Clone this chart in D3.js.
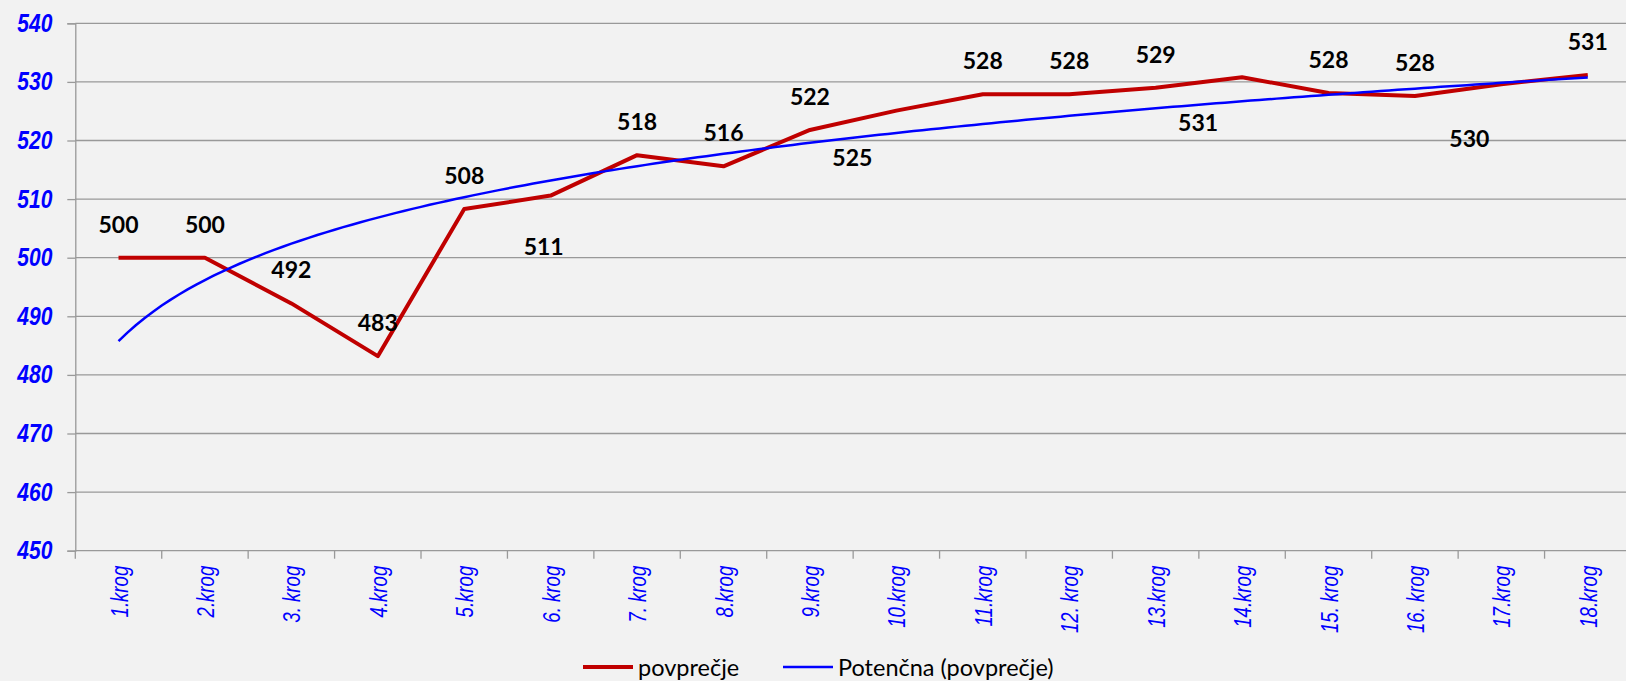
<!DOCTYPE html>
<html lang="sl">
<head>
<meta charset="UTF-8">
<title>povprečje</title>
<script src="https://d3js.org/d3.v7.min.js"></script>
<style>
    body { margin: 0; background: #f2f2f2; }
    svg { display: block; }
</style>
</head>
<body>
<script>
    // data
    const kategorije = ["1.krog", "2.krog", "3. krog", "4.krog", "5.krog", "6. krog", "7. krog", "8.krog", "9.krog",
        "10.krog", "11.krog", "12. krog", "13.krog", "14.krog", "15. krog", "16. krog", "17.krog", "18.krog"];
    const povprecje = [500, 500, 492.2, 483.2, 508.3, 510.6, 517.5, 515.6, 521.8,
        525.1, 527.9, 527.9, 529.0, 530.8, 528.1, 527.6, 529.6, 531.2];
    const yTicks = [450, 460, 470, 480, 490, 500, 510, 520, 530, 540];
    const labelBelow = ["6. krog", "10.krog", "14.krog", "17.krog"];

    const W = 1626, H = 681;
    const plotL = 75.3, plotR = 1631, plotT = 23.3, plotB = 550.7;
    const sans = "'Liberation Sans', Arial, sans-serif";

    // squeeze text horizontally, the original uses a narrow face
    function squeeze(sel, k) {
        sel.each(function () {
            const w = this.getComputedTextLength();
            d3.select(this).attr("textLength", w * k).attr("lengthAdjust", "spacingAndGlyphs");
        });
    }

    const svg = d3.select("body").append("svg")
        .attr("width", W)
        .attr("height", H);

    svg.append("rect").attr("width", W).attr("height", H).attr("fill", "#f2f2f2");

    const x = d3.scaleBand().domain(kategorije).range([plotL, plotR]).padding(0);
    const xLin = d3.scaleLinear().domain([0.5, kategorije.length + 0.5]).range([plotL, plotR]);
    const y = d3.scaleLinear().domain([450, 540]).range([plotB, plotT]);

    // y axis with grid
    const yAxis = svg.append("g")
        .attr("transform", `translate(${plotL},0)`)
        .call(d3.axisLeft(y).tickValues(yTicks).tickSize(8).tickPadding(15));
    yAxis.select(".domain").attr("stroke", "#999").attr("stroke-width", 1.3);
    yAxis.selectAll(".tick line").attr("stroke", "#999").attr("stroke-width", 1.3);
    yAxis.selectAll(".tick text")
        .attr("fill", "#0000ff")
        .attr("font-family", sans)
        .attr("font-weight", "bold")
        .attr("font-style", "italic")
        .attr("font-size", 25)
        .call(squeeze, 0.84);

    svg.append("g").selectAll("line")
        .data(yTicks)
        .join("line")
        .attr("x1", plotL).attr("x2", plotR)
        .attr("y1", d => y(d)).attr("y2", d => y(d))
        .attr("stroke", "#999").attr("stroke-width", 1.3);

    // x axis, ticks between categories
    const bounds = kategorije.map(k => x(k)).concat([plotR]);
    svg.append("g").selectAll("line")
        .data(bounds)
        .join("line")
        .attr("x1", d => d).attr("x2", d => d)
        .attr("y1", plotB).attr("y2", plotB + 8)
        .attr("stroke", "#999").attr("stroke-width", 1.3);

    svg.append("g").selectAll("text")
        .data(kategorije)
        .join("text")
        .attr("transform", d => `translate(${x(d) + x.bandwidth() / 2 + 9},${plotB + 15}) rotate(-90)`)
        .attr("text-anchor", "end")
        .attr("fill", "#0000ff")
        .attr("font-family", sans)
        .attr("font-style", "italic")
        .attr("font-size", 23)
        .text(d => d)
        .call(squeeze, 0.81);

    // power trendline (least squares on ln x, ln y)
    const lx = povprecje.map((v, i) => Math.log(i + 1));
    const ly = povprecje.map(v => Math.log(v));
    const mx = d3.mean(lx), my = d3.mean(ly);
    const b = d3.sum(lx, (v, i) => (v - mx) * (ly[i] - my)) / d3.sum(lx, v => (v - mx) * (v - mx));
    const a = Math.exp(my - b * mx);
    const trendX = d3.range(1, kategorije.length + 0.001, 0.1);

    // main series
    svg.append("path")
        .datum(povprecje)
        .attr("fill", "none")
        .attr("stroke", "#c00000")
        .attr("stroke-width", 4)
        .attr("stroke-linejoin", "round")
        .attr("d", d3.line().x((d, i) => x(kategorije[i]) + x.bandwidth() / 2).y(d => y(d)));

    svg.append("path")
        .datum(trendX)
        .attr("fill", "none")
        .attr("stroke", "#0000ff")
        .attr("stroke-width", 2.5)
        .attr("d", d3.line().x(d => xLin(d)).y(d => y(a * Math.pow(d, b))));

    // value labels
    const nudgeX = { "6. krog": -7, "10.krog": -44, "14.krog": -44, "17.krog": -32 };
    const nudgeY = { "6. krog": 50, "10.krog": 46, "14.krog": 45, "17.krog": 54 };
    svg.append("g").selectAll("text")
        .data(povprecje)
        .join("text")
        .attr("x", (d, i) => x(kategorije[i]) + x.bandwidth() / 2 + (nudgeX[kategorije[i]] || 0))
        .attr("y", (d, i) => y(d) + (labelBelow.includes(kategorije[i]) ? nudgeY[kategorije[i]] : -34))
        .attr("text-anchor", "middle")
        .attr("dominant-baseline", "central")
        .attr("font-family", "Lato, 'Open Sans', sans-serif")
        .attr("font-weight", "bold")
        .attr("font-size", 23)
        .attr("fill", "#000")
        .text(d => Math.round(d));

    // legend
    const legend = svg.append("g").attr("transform", "translate(0,667)");
    const items = [
        { name: "povprečje", color: "#c00000", w: 4, x: 583 },
        { name: "Potenčna (povprečje)", color: "#0000ff", w: 2.5, x: 783 }
    ];
    items.forEach(it => {
        legend.append("line")
            .attr("x1", it.x).attr("x2", it.x + 50)
            .attr("stroke", it.color).attr("stroke-width", it.w);
        legend.append("text")
            .attr("x", it.x + 55)
            .attr("dominant-baseline", "central")
            .attr("font-family", "Lato, 'Open Sans', sans-serif")
            .attr("font-size", 23.5)
            .attr("fill", "#000")
            .text(it.name);
    });
</script>
</body>
</html>
